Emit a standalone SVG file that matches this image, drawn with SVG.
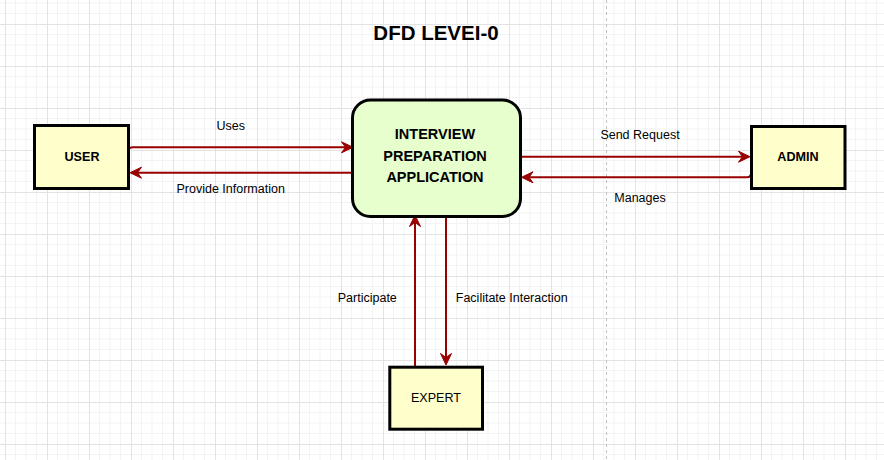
<svg xmlns="http://www.w3.org/2000/svg" width="884" height="460" viewBox="0 0 884 460">
  <style>
    .ext { fill: #FFFFCC; stroke: #000000; stroke-width: 3; }
    .proc { fill: #E6FFCC; stroke: #000000; stroke-width: 3; }
    .lbl { font-family: "Liberation Sans", Arial, sans-serif; font-size: 12.5px; fill: #000000; text-anchor: middle; }
    .nodeb { font-family: "Liberation Sans", Arial, sans-serif; font-size: 12.6px; font-weight: bold; fill: #000000; text-anchor: middle; }
    .noden { font-family: "Liberation Sans", Arial, sans-serif; font-size: 12.6px; fill: #000000; text-anchor: middle; }
    .proct { font-family: "Liberation Sans", Arial, sans-serif; font-size: 14.5px; font-weight: bold; fill: #000000; text-anchor: middle; }
    .title { font-family: "Liberation Sans", Arial, sans-serif; font-size: 20.5px; font-weight: bold; fill: #000000; text-anchor: middle; }
    .edge { fill: none; stroke: #990000; stroke-width: 2; marker-end: url(#arr); }
  </style>
  <defs>
    <pattern id="grid" x="5" y="24" width="42" height="42" patternUnits="userSpaceOnUse">
      <path d="M10.5 0 V42 M21 0 V42 M31.5 0 V42 M0 10.5 H42 M0 21 H42 M0 31.5 H42" stroke="#f3f3f3" stroke-width="1" fill="none"/>
      <path d="M0.5 0 V42 M0 0.5 H42" stroke="#e3e3e3" stroke-width="1" fill="none"/>
    </pattern>
    <marker id="arr" viewBox="-9 -7 14 14" markerWidth="14" markerHeight="14" refX="0" refY="0" orient="auto" markerUnits="userSpaceOnUse">
      <path d="M4,0 L-7.5,-5.5 L-3.5,0 L-7.5,5.5 Z" fill="#990000" stroke="#990000" stroke-width="1" stroke-linejoin="miter"/>
    </marker>
  </defs>

  <rect x="0" y="0" width="884" height="460" fill="#ffffff"/>
  <rect x="0" y="0" width="884" height="460" fill="url(#grid)"/>
  <line x1="606.5" y1="0" x2="606.5" y2="460" stroke="#c0c0c0" stroke-width="1" stroke-dasharray="3 3"/>

  <text class="title" x="436" y="40">DFD LEVEI-0</text>

  <g id="connectors">
    <path class="edge" d="M128.5 150 Q129 147.3 133 147.3 L349 147.3"/>
    <path class="edge" d="M351 172.7 L134 172.7"/>
    <path class="edge" d="M521 156.7 L746 156.7"/>
    <path class="edge" d="M751 173 Q751 177.3 747 177.3 L525.5 177.3"/>
    <path class="edge" d="M415 366 L415 219"/>
    <path class="edge" d="M446 217 L446 361"/>
    <text class="lbl" x="230.7" y="130">Uses</text>
    <text class="lbl" x="230.7" y="193">Provide Information</text>
    <text class="lbl" x="640" y="138.5">Send Request</text>
    <text class="lbl" x="640" y="202">Manages</text>
    <text class="lbl" x="367.3" y="302">Participate</text>
    <text class="lbl" x="511.7" y="302">Facilitate Interaction</text>
  </g>

  <g id="user">
    <rect class="ext" x="34.5" y="125.5" width="94" height="63"/>
    <text class="nodeb" x="82" y="160.5">USER</text>
  </g>

  <g id="app">
    <rect class="proc" x="352.5" y="100" width="168" height="116.5" rx="18" ry="18"/>
    <text class="proct" x="435" y="138.5">INTERVIEW</text>
    <text class="proct" x="435" y="160.5">PREPARATION</text>
    <text class="proct" x="435" y="182">APPLICATION</text>
  </g>

  <g id="admin">
    <rect class="ext" x="751.5" y="126.5" width="93.5" height="62"/>
    <text class="nodeb" x="798" y="160.5">ADMIN</text>
  </g>

  <g id="expert">
    <rect class="ext" x="389.8" y="367.2" width="92.7" height="62"/>
    <text class="noden" x="436" y="402">EXPERT</text>
  </g>
</svg>
